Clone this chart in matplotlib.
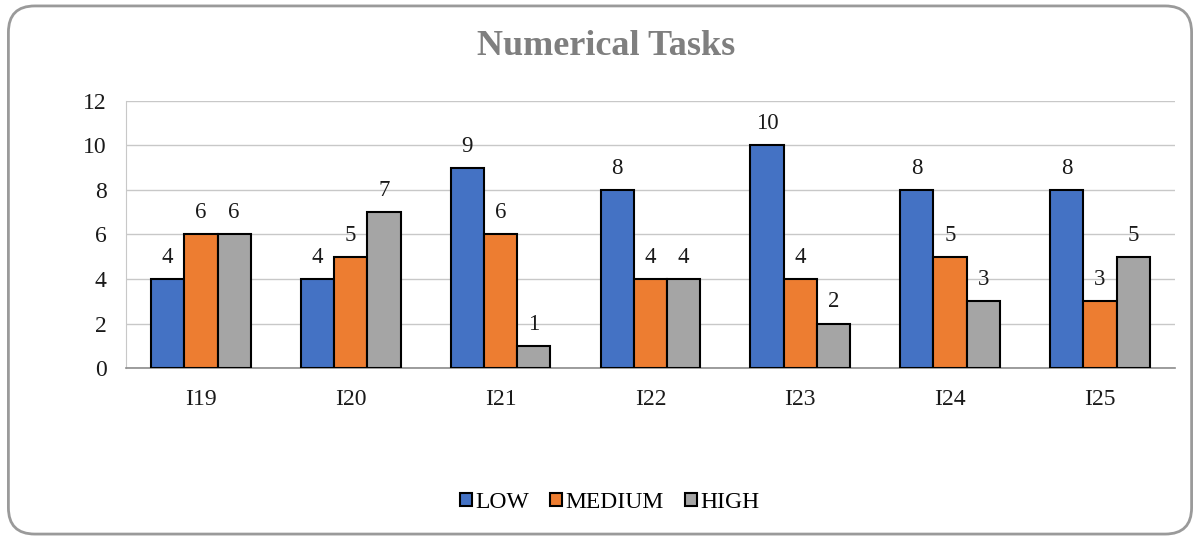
import matplotlib.pyplot as plt
import numpy as np
from matplotlib.patches import FancyBboxPatch

items = ["I19", "I20", "I21", "I22", "I23", "I24", "I25"]
low = [4, 4, 9, 8, 10, 8, 8]
medium = [6, 5, 6, 4, 4, 5, 3]
high = [6, 7, 1, 4, 2, 3, 5]
series_names = ["LOW", "MEDIUM", "HIGH"]
colors = ["#4472C4", "#ED7D31", "#A5A5A5"]

plt.rcParams['font.family'] = ['Liberation Serif', 'DejaVu Serif']

fig = plt.figure(figsize=(12, 5.4), dpi=100)
ax = fig.add_axes([0.105, 0.3185, 0.874, 0.4945])

# rounded outer frame
frame = FancyBboxPatch((0.007, 0.011), 0.986, 0.978,
                       boxstyle="round,pad=0,rounding_size=0.022",
                       transform=fig.transFigure, facecolor='white',
                       edgecolor='#9a9a9a', linewidth=2.0,
                       mutation_aspect=1200 / 540, zorder=-10)
fig.patches.append(frame)

x = np.arange(len(items))
width = 0.222
for i, (vals, name, col) in enumerate(zip([low, medium, high], series_names, colors)):
    pos = x + (i - 1) * width
    bars = ax.bar(pos, vals, width, color=col, edgecolor='black',
                  linewidth=1.5, label=name, zorder=3)
    for b, v in zip(bars, vals):
        ax.annotate(str(v), (b.get_x() + b.get_width() / 2, v),
                    xytext=(0, 8), textcoords='offset points',
                    ha='center', va='bottom', fontsize=16.5, color='#1a1a1a')

ax.set_xlim(-0.5, len(items) - 0.5)
ax.set_ylim(0, 12)
ax.set_yticks(range(0, 13, 2))
ax.set_xticks(x)
ax.set_xticklabels(items)
ax.tick_params(axis='both', length=0, labelsize=17, colors='#1a1a1a')
ax.tick_params(axis='x', pad=15)
ax.tick_params(axis='y', pad=14)
ax.grid(axis='y', color='#c8c8c8', linewidth=1.0, zorder=0)
for s in ['top', 'right']:
    ax.spines[s].set_visible(False)
ax.spines['left'].set_color('#c8c8c8')
ax.spines['bottom'].set_color('#8c8c8c')
ax.spines['bottom'].set_linewidth(1.2)

fig.text(0.505, 0.913, "Numerical Tasks", ha='center', va='center',
         fontsize=26, fontweight='bold', color='#7f7f7f')

fig.legend(loc='center', bbox_to_anchor=(0.508, 0.07), ncol=3, frameon=False,
           fontsize=17, handlelength=0.5, handleheight=0.5, handletextpad=0.15,
           columnspacing=0.9)

fig.savefig("out.png", dpi=100)
